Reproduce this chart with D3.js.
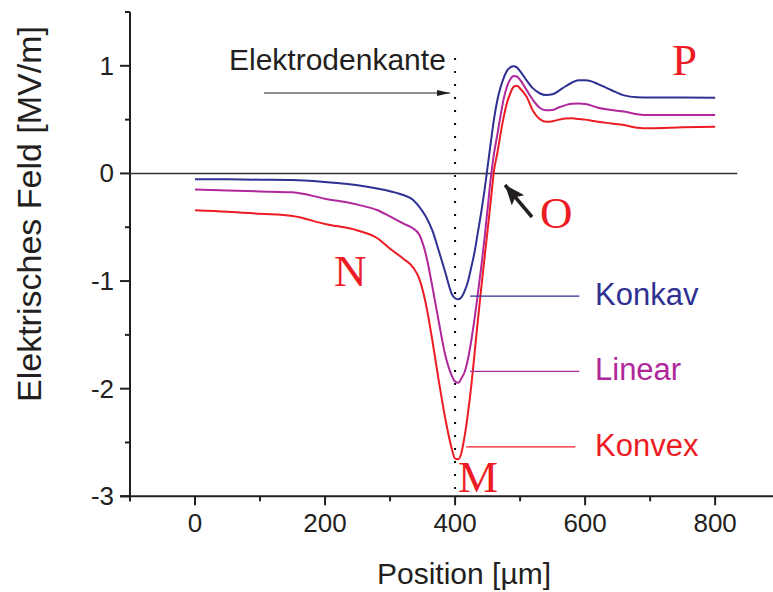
<!DOCTYPE html>
<html>
<head>
<meta charset="utf-8">
<script src="https://cdn.jsdelivr.net/npm/d3@7"></script>
<style>
  body { margin: 0; background: #fff; }
  svg text { font-family: "Liberation Sans", Arial, sans-serif; }
</style>
</head>
<body>
<div id="chart"></div>
<script>
// positions in µm
const positions = [0, 50, 100, 150, 200, 250, 280, 300, 320, 335, 345, 355, 365, 375, 385, 395, 400, 405, 410, 415,
  420, 425, 430, 435, 440, 445, 450, 455, 460, 465, 470, 475, 480, 485, 490, 495, 500, 510, 520, 530,
  540, 550, 560, 570, 580, 590, 600, 610, 620, 640, 660, 680, 700, 750, 800];

// field in MV/m
const konkav = [-0.053, -0.055, -0.058, -0.061, -0.08, -0.11, -0.14, -0.165, -0.20, -0.245, -0.31, -0.40, -0.53, -0.72, -0.92, -1.12, -1.16, -1.17, -1.15, -1.09,
  -1.00, -0.87, -0.73, -0.55, -0.37, -0.17, 0.06, 0.29, 0.51, 0.68, 0.80, 0.89, 0.955, 0.985, 0.996, 0.985, 0.95, 0.865, 0.79, 0.745,
  0.728, 0.735, 0.77, 0.81, 0.845, 0.865, 0.866, 0.855, 0.83, 0.775, 0.725, 0.708, 0.705, 0.705, 0.703];

const linear = [-0.149, -0.158, -0.167, -0.175, -0.235, -0.29, -0.34, -0.40, -0.465, -0.51, -0.57, -0.75, -1.05, -1.38, -1.69, -1.88, -1.935, -1.945, -1.90, -1.84,
  -1.72, -1.55, -1.35, -1.12, -0.88, -0.62, -0.33, -0.04, 0.19, 0.36, 0.54, 0.70, 0.81, 0.875, 0.905, 0.90, 0.87, 0.775, 0.68, 0.61,
  0.588, 0.59, 0.615, 0.635, 0.648, 0.65, 0.645, 0.63, 0.61, 0.59, 0.575, 0.55, 0.542, 0.542, 0.542];

const konvex = [-0.341, -0.355, -0.375, -0.395, -0.47, -0.53, -0.60, -0.70, -0.79, -0.87, -0.98, -1.21, -1.55, -1.93, -2.28, -2.56, -2.65, -2.655, -2.59, -2.43,
  -2.22, -1.97, -1.67, -1.37, -1.08, -0.80, -0.53, -0.25, 0.03, 0.19, 0.37, 0.53, 0.66, 0.745, 0.805, 0.815, 0.79, 0.712, 0.58, 0.505,
  0.48, 0.485, 0.50, 0.51, 0.512, 0.505, 0.50, 0.49, 0.48, 0.465, 0.45, 0.425, 0.42, 0.428, 0.433];

const seriesNames = ["Konkav", "Linear", "Konvex"];
const seriesColors = ["#2e3192", "#b0279a", "#ed1c24"];
const legendY = [-1.14, -1.84, -2.54];

const xMajor = [0, 200, 400, 600, 800];
const xMinor = [-100, 100, 300, 500, 700];
const yMajor = [-3, -2, -1, 0, 1];
const yMinor = [-2.5, -1.5, -0.5, 0.5, 1.5];

const width = 773, height = 592;
const axisColor = "#231f20";

const svg = d3.select("#chart").append("svg")
  .attr("width", width)
  .attr("height", height);

const x = d3.scaleLinear().domain([-100, 889]).range([130, 773]);
const y = d3.scaleLinear().domain([-3, 1.5]).range([496.3, 12]);

// axes
const xAxis = svg.append("g").attr("transform", `translate(0,${y(-3)})`);
xAxis.append("line").attr("x1", 120).attr("x2", width).attr("stroke", axisColor).attr("stroke-width", 2);
xAxis.selectAll(".major").data(xMajor).enter().append("line")
  .attr("x1", d => x(d)).attr("x2", d => x(d)).attr("y1", 0).attr("y2", 9)
  .attr("stroke", axisColor).attr("stroke-width", 2);
xAxis.selectAll(".minor").data(xMinor).enter().append("line")
  .attr("x1", d => x(d)).attr("x2", d => x(d)).attr("y1", 0).attr("y2", 5)
  .attr("stroke", axisColor).attr("stroke-width", 2);
xAxis.selectAll("text").data(xMajor).enter().append("text")
  .attr("x", d => x(d)).attr("y", 36)
  .attr("text-anchor", "middle")
  .attr("font-size", 26)
  .attr("fill", axisColor)
  .text(d => d);

const yAxis = svg.append("g").attr("transform", `translate(${x(-100)},0)`);
yAxis.append("line").attr("y1", y(1.5)).attr("y2", y(-3) + 5).attr("stroke", axisColor).attr("stroke-width", 2);
yAxis.selectAll(".major").data(yMajor).enter().append("line")
  .attr("y1", d => y(d)).attr("y2", d => y(d)).attr("x1", 0).attr("x2", -10)
  .attr("stroke", axisColor).attr("stroke-width", 2);
yAxis.selectAll(".minor").data(yMinor).enter().append("line")
  .attr("y1", d => y(d)).attr("y2", d => y(d)).attr("x1", 0).attr("x2", -5)
  .attr("stroke", axisColor).attr("stroke-width", 2);
yAxis.selectAll("text").data(yMajor).enter().append("text")
  .attr("x", -16).attr("y", d => y(d) + 9)
  .attr("text-anchor", "end")
  .attr("font-size", 26)
  .attr("fill", axisColor)
  .text(d => d);

// axis titles
svg.append("text")
  .attr("x", 464).attr("y", 584)
  .attr("text-anchor", "middle")
  .attr("font-size", 30)
  .attr("fill", axisColor)
  .text("Position [\u00b5m]");

svg.append("text")
  .attr("transform", `translate(41,214) rotate(-90)`)
  .attr("text-anchor", "middle")
  .attr("font-size", 34)
  .attr("fill", axisColor)
  .text("Elektrisches Feld [MV/m]");

// zero line
svg.append("line")
  .attr("x1", x(-100)).attr("x2", x(834))
  .attr("y1", y(0)).attr("y2", y(0))
  .attr("stroke", "#333").attr("stroke-width", 1.5);

// electrode edge (dotted)
svg.append("line")
  .attr("x1", x(400)).attr("x2", x(400))
  .attr("y1", 58).attr("y2", y(-3))
  .attr("stroke", "#000").attr("stroke-width", 2)
  .attr("stroke-dasharray", "2,11");

// curves
const line = d3.line()
  .x((d, i) => x(positions[i]))
  .y(d => y(d))
  .curve(d3.curveMonotoneX);

[konkav, linear, konvex].forEach((vals, i) => {
  svg.append("path")
    .datum(vals)
    .attr("d", line)
    .attr("fill", "none")
    .attr("stroke", seriesColors[i])
    .attr("stroke-width", 2);
});

// legend lines and labels
const legendX1 = [423, 423, 417], legendX2 = [591, 591, 585];
seriesNames.forEach((name, i) => {
  svg.append("line")
    .attr("x1", x(legendX1[i])).attr("x2", x(legendX2[i]))
    .attr("y1", y(legendY[i])).attr("y2", y(legendY[i]))
    .attr("stroke", seriesColors[i]).attr("stroke-width", 1.3);
  svg.append("text")
    .attr("x", 595).attr("y", y(legendY[i]) + 9)
    .attr("font-size", 31)
    .attr("fill", seriesColors[i])
    .text(name);
});

// annotations
const defs = svg.append("defs");
defs.append("marker")
  .attr("id", "head-small")
  .attr("viewBox", "0 0 13 6")
  .attr("refX", 13).attr("refY", 3)
  .attr("markerWidth", 13).attr("markerHeight", 6)
  .attr("markerUnits", "userSpaceOnUse")
  .attr("orient", "auto")
  .append("path").attr("d", "M0,0 L13,3 L0,6 Z").attr("fill", "#231f20");

defs.append("marker")
  .attr("id", "head-big")
  .attr("viewBox", "0 0 20 16")
  .attr("refX", 20).attr("refY", 8)
  .attr("markerWidth", 20).attr("markerHeight", 16)
  .attr("markerUnits", "userSpaceOnUse")
  .attr("orient", "auto")
  .append("path").attr("d", "M0,0 L20,8 L0,16 L4,8 Z").attr("fill", "#231f20");

svg.append("text")
  .attr("x", 229).attr("y", 70)
  .attr("font-size", 30)
  .attr("fill", axisColor)
  .text("Elektrodenkante");

svg.append("line")
  .attr("x1", 264).attr("x2", 450)
  .attr("y1", 93).attr("y2", 93)
  .attr("stroke", "#231f20").attr("stroke-width", 1.2)
  .attr("marker-end", "url(#head-small)");

svg.append("line")
  .attr("x1", 532).attr("y1", 217)
  .attr("x2", 505).attr("y2", 185)
  .attr("stroke", "#231f20").attr("stroke-width", 3.5)
  .attr("marker-end", "url(#head-big)");

const letters = [
  { t: "N", x: 334, y: 286 },
  { t: "M", x: 458, y: 492 },
  { t: "O", x: 540, y: 228 },
  { t: "P", x: 672, y: 75 }
];
svg.selectAll(".letter").data(letters).enter().append("text")
  .attr("class", "letter")
  .attr("x", d => d.x).attr("y", d => d.y)
  .style("font-family", "'Liberation Serif', 'Times New Roman', serif")
  .attr("font-size", 45)
  .attr("fill", "#ed1c24")
  .text(d => d.t);
</script>
</body>
</html>
